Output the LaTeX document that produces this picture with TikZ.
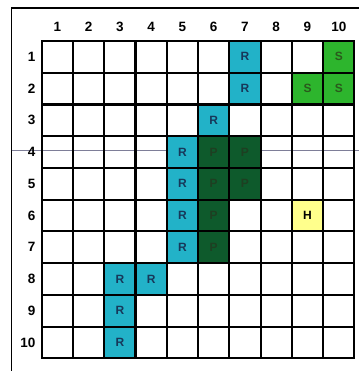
\documentclass[tikz,border=0pt]{standalone}
\usepackage{fontspec}
\setmainfont{Liberation Sans}
\definecolor{rfill}{HTML}{22B2C8}
\definecolor{rtext}{HTML}{17385A}
\definecolor{pfill}{HTML}{0E5A2C}
\definecolor{ptext}{HTML}{1E3F22}
\definecolor{sfill}{HTML}{2DB52D}
\definecolor{stext}{HTML}{2A5A1C}
\definecolor{hfill}{HTML}{FFFF8C}
\definecolor{scanline}{HTML}{7E7E98}
\begin{document}
\begin{tikzpicture}[x=1pt,y=-1pt,
  cellbox/.style={inner sep=0pt, minimum width=31.27pt, minimum height=31.73pt, font=\fontsize{12}{13}\selectfont\bfseries},
  rcell/.style={cellbox, fill=rfill, text=rtext},
  pcell/.style={cellbox, fill=pfill, text=ptext},
  scell/.style={cellbox, fill=sfill, text=stext},
  hcell/.style={cellbox, fill=hfill, text=black},
  gridline/.style={line width=2.1pt, black, line cap=rect},
  framebox/.style={line width=1.3pt, black},
  lab/.style={inner sep=0pt, font=\fontsize{13.5}{14}\selectfont\bfseries}
]
\useasboundingbox (0,0) rectangle (359,371);
% outer frame
\draw[framebox] (11.7,371) -- (11.7,8) -- (359,8);
% scan line
\draw[scanline, line width=0.9pt] (11.7,150) -- (359,150);
% coloured cells
\foreach \c/\r/\t/\s in {7/1/R/rcell, 7/2/R/rcell, 6/3/R/rcell, 5/4/R/rcell, 5/5/R/rcell, 5/6/R/rcell, 5/7/R/rcell, 3/8/R/rcell, 4/8/R/rcell, 3/9/R/rcell, 3/10/R/rcell,
  6/4/P/pcell, 7/4/P/pcell, 6/5/P/pcell, 7/5/P/pcell, 6/6/P/pcell, 6/7/P/pcell,
  10/1/S/scell, 9/2/S/scell, 10/2/S/scell, 9/6/H/hcell}
{
  \node[\s] (cell\c-\r) at ({41.7+(\c-0.5)*31.27},{41+(\r-0.5)*31.73}) {\t};
}
% grid
\foreach \i in {0,...,10} {
  \draw[gridline] ({41.7+\i*31.27},41) -- ({41.7+\i*31.27},358.3);
  \draw[gridline] (41.7,{41+\i*31.73}) -- (354.4,{41+\i*31.73});
}
% labels
\foreach \i in {1,...,10} {
  \node[lab] (col\i) at ({41.7+(\i-0.5)*31.27},27) {\i};
  \node[lab, anchor=east] (row\i) at (35.5,{41+(\i-0.5)*31.73}) {\i};
}
\end{tikzpicture}
\end{document}
